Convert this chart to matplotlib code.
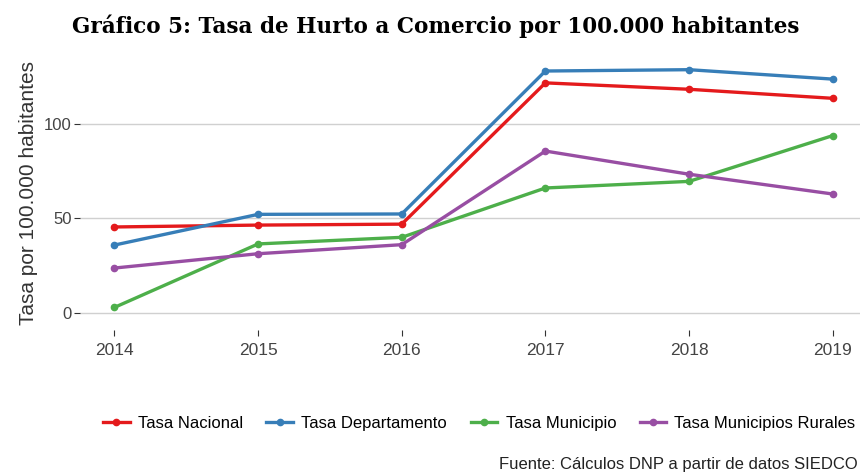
import numpy as np
import matplotlib
matplotlib.use("Agg")
import matplotlib.pyplot as plt

years = [2014, 2015, 2016, 2017, 2018, 2019]
nacional = [45.5, 46.5, 47.0, 122.0, 118.6, 113.8]
departamento = [35.9, 52.2, 52.4, 128.3, 129.0, 124.0]
municipio = [2.8, 36.5, 40.0, 66.2, 69.7, 94.0]
rurales = [23.7, 31.3, 36.1, 85.8, 73.5, 63.0]

series_names = ["Tasa Nacional", "Tasa Departamento", "Tasa Municipio",
                "Tasa Municipios Rurales"]
colors = ["#E41A1C", "#377EB8", "#4DAF4A", "#984EA3"]

plt.rcParams['font.family'] = ["Liberation Sans", "DejaVu Sans"]

fig = plt.figure(figsize=(8.6, 4.73), dpi=100)
ax = fig.add_axes([80/860, 1 - 330/473, 780/860, (330 - 55)/473])

for vals, name, c in zip([nacional, departamento, municipio, rurales],
                         series_names, colors):
    ax.plot(years, vals, '-o', color=c, lw=2.4, ms=4.5, label=name)

ax.set_xlim(2013.76, 2019.19)
ax.set_ylim(-9.2, 136.8)
ax.set_yticks([0, 50, 100])
ax.set_xticks(years)
ax.yaxis.grid(True, color="#d0d0d0", lw=1)
ax.set_axisbelow(True)
for s in ax.spines.values():
    s.set_visible(False)
ax.tick_params(axis='y', length=4, color='#333333', labelsize=12,
               labelcolor='#444444', pad=2)
ax.tick_params(axis='x', length=4, color='#333333', labelsize=12.5,
               labelcolor='#444444', pad=5)
ax.set_ylabel("Tasa por 100.000 habitantes", fontsize=15, color='#333333',
              labelpad=4)

fig.text(436/860, 1 - 26/473, "Gráfico 5: Tasa de Hurto a Comercio por 100.000 habitantes",
         ha='center', va='center', fontsize=15.5, fontweight='bold',
         family=['DejaVu Serif'])

fig.legend(loc='center left', bbox_to_anchor=(103/860, 1 - 423/473), ncol=4,
           frameon=False, fontsize=12, handlelength=1.6, handletextpad=0.5,
           columnspacing=1.4, borderaxespad=0, borderpad=0)

fig.text(858/860, 1 - 464/473, "Fuente: Cálculos DNP a partir de datos SIEDCO",
         ha='right', va='center', fontsize=12, color='#222222')

fig.savefig("out.png", dpi=100)
